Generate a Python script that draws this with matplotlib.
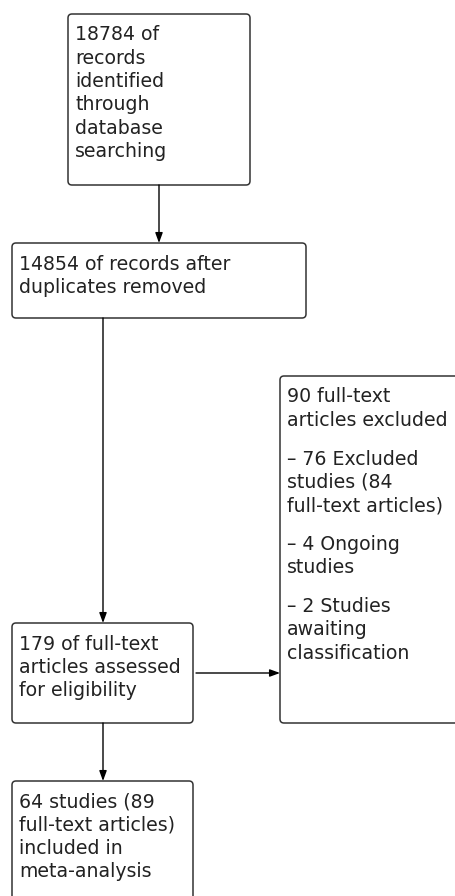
import matplotlib
matplotlib.use("Agg")
import matplotlib.pyplot as plt
from matplotlib.patches import FancyBboxPatch, FancyArrowPatch

# box texts (paragraphs split by blank entries)
box_texts = [
    ["18784 of", "records", "identified", "through", "database", "searching"],
    ["14854 of records after", "duplicates removed"],
    ["179 of full-text", "articles assessed", "for eligibility"],
    ["64 studies (89", "full-text articles)", "included in", "meta-analysis"],
    ["90 full-text", "articles excluded", "",
     "- 76 Excluded", "studies (84", "full-text articles)", "",
     "- 4 Ongoing", "studies", "",
     "- 2 Studies", "awaiting", "classification"],
]

# box geometry in pixels: left, top, right, bottom
boxes = [
    (68, 14, 250, 185),
    (12, 243, 306, 318),
    (12, 623, 193, 723),
    (12, 781, 193, 905),
    (280, 376, 462, 723),
]

# arrows: (x0, y0, x1, y1)
arrows = [
    (159, 185, 159, 243),
    (103, 318, 103, 623),
    (103, 723, 103, 781),
    (196, 673, 280, 673),
]

W, H = 455, 896
fig = plt.figure(figsize=(W / 100, H / 100), dpi=100)
ax = fig.add_axes([0, 0, 1, 1])
ax.set_xlim(0, W)
ax.set_ylim(H, 0)
ax.axis("off")

line_step = 23.3
para_gap = 15.5

for (l, t, r, b), lines in zip(boxes, box_texts):
    patch = FancyBboxPatch((l, t), r - l, b - t,
                           boxstyle="round,pad=0,rounding_size=4",
                           fc="white", ec="#333333", lw=1.1)
    ax.add_patch(patch)
    y = t + 26.5
    for s in lines:
        if s == "":
            y += para_gap
            continue
        ax.text(l + 7, y, s.replace("-", "\u2013") if s.startswith("- ") else s,
                fontsize=13.6, color="#222222", va="baseline", ha="left",
                family="DejaVu Sans")
        y += line_step

for x0, y0, x1, y1 in arrows:
    arr = FancyArrowPatch((x0, y0), (x1, y1),
                          arrowstyle="-|>,head_length=0.6,head_width=0.22",
                          mutation_scale=10, color="black", lw=1.0,
                          shrinkA=0, shrinkB=0)
    ax.add_patch(arr)

fig.savefig("out.png", dpi=100)
